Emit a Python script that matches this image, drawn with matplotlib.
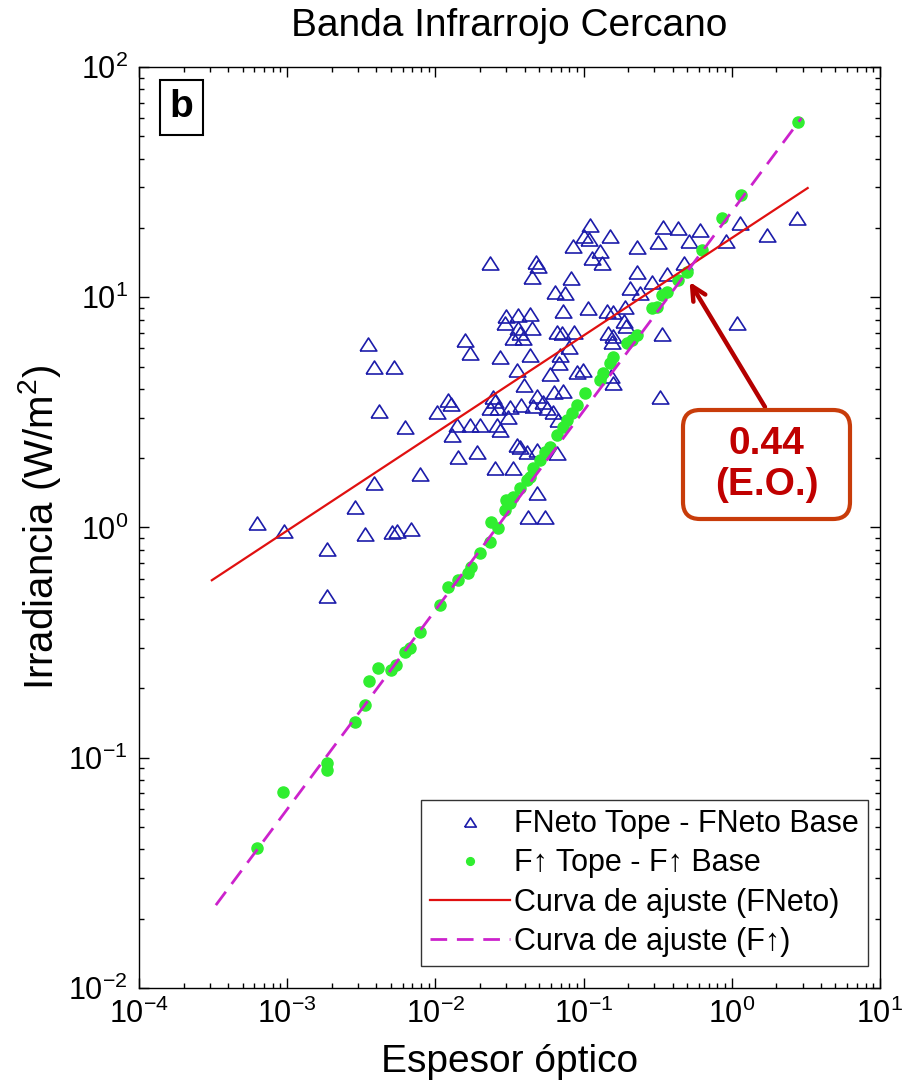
import matplotlib
matplotlib.use("Agg")
import matplotlib.pyplot as plt
from matplotlib.patches import FancyBboxPatch
from matplotlib.ticker import LogLocator, NullFormatter

plt.rcParams['font.family'] = ['Liberation Sans', 'DejaVu Sans']
plt.rcParams['mathtext.default'] = 'regular'

# ---- data: FNeto Tope - FNeto Base (triangles) ----
fneto_x = [6.25e-4, 9.50e-4, 1.853e-3, 1.853e-3, 2.86e-3, 3.50e-3, 3.84e-3, 5.24e-3,
           4.15e-3, 6.22e-3, 7.85e-3, 3.84e-3, 3.34e-3, 5.08e-3, 5.49e-3, 6.83e-3,
           0.01022, 0.01213, 0.0127, 0.01394, 0.0129, 0.01416, 0.01706, 0.0190,
           0.01993, 0.01579, 0.01706, 0.02327, 0.02719, 0.02594, 0.02515, 0.02438,
           0.02515, 0.02327, 0.02636, 0.03175, 0.03078, 0.02719, 0.02983, 0.03594,
           0.04331, 0.02938, 0.03594, 0.04467, 0.03708, 0.03325, 0.03886, 0.03539,
           0.03325, 0.03946, 0.04331, 0.04753, 0.04903, 0.04467, 0.04829, 0.03767,
           0.04538, 0.05300, 0.05638, 0.03539, 0.03708, 0.04133, 0.04829, 0.06587,
           0.04829, 0.04198, 0.05467, 0.05907, 0.06286, 0.07228, 0.06189, 0.06688,
           0.06385, 0.07458, 0.06587, 0.07117, 0.08577, 0.06900, 0.06794, 0.07228,
           0.07932, 0.08185, 0.08443, 0.08985, 0.1004, 0.1083, 0.1100, 0.1500,
           0.1284, 0.1134, 0.1324, 0.1066, 0.1432, 0.1571, 0.1454, 0.1571,
           0.1547, 0.1864, 0.1923, 0.1893, 0.0986, 0.1523, 0.1571, 0.2281,
           0.3415, 0.4310, 0.6066, 0.3160, 0.5115, 0.2281, 0.2878, 0.2046,
           0.2389, 0.3634, 0.4732, 0.3362, 0.3259, 0.9082, 1.077, 1.129,
           1.717, 2.735]
fneto_y = [1.046, 0.966, 0.807, 0.504, 1.227, 6.27, 4.98, 4.98,
           3.21, 2.73, 1.71, 1.56, 0.937, 0.956, 0.966, 0.985,
           3.18, 3.58, 3.44, 2.79, 2.52, 2.02, 2.79, 2.13,
           2.79, 6.52, 5.73, 14.09, 5.50, 2.79, 1.81, 3.69,
           3.54, 3.30, 3.30, 3.34, 3.02, 2.65, 8.29, 8.37,
           8.46, 7.73, 7.35, 7.35, 7.00, 6.65, 6.65, 4.83,
           1.81, 4.16, 5.62, 14.23, 13.67, 12.24, 3.72, 3.40,
           3.37, 3.51, 3.30, 2.28, 2.24, 2.13, 2.17, 2.11,
           1.41, 1.11, 1.11, 4.64, 3.88, 3.92, 3.18, 2.93,
           10.54, 10.43, 7.07, 7.00, 7.07, 5.62, 5.18, 8.71,
           6.08, 12.12, 16.70, 4.74, 18.45, 17.91, 20.6, 18.45,
           15.88, 14.81, 14.09, 8.98, 8.71, 8.63, 7.00, 6.79,
           6.39, 7.88, 7.50, 9.07, 4.83, 4.55, 4.24, 16.53,
           20.2, 20.0, 19.6, 17.38, 17.55, 12.88, 11.65, 10.97,
           10.43, 12.62, 14.09, 6.92, 3.69, 17.55, 7.73, 21.0,
           18.6, 22.1]

# ---- data: F(up) Tope - F(up) Base (green) ----
fup_x = [6.25e-4, 9.35e-4, 1.853e-3, 1.853e-3, 2.86e-3, 3.34e-3, 3.556e-3, 4.09e-3,
         5.00e-3, 5.41e-3, 6.22e-3, 6.72e-3, 7.85e-3, 0.01071, 0.01213, 0.01416,
         0.01654, 0.01733, 0.01993, 0.02327, 0.02363, 0.02636, 0.02983, 0.02938,
         0.03175, 0.03325, 0.03708, 0.04133, 0.04331, 0.04538, 0.0506, 0.05467,
         0.05907, 0.06587, 0.07228, 0.07691, 0.08314, 0.08985, 0.1017, 0.1284,
         0.1346, 0.1500, 0.1571, 0.1953, 0.2110, 0.2281, 0.2878, 0.3111,
         0.3362, 0.3634, 0.4310, 0.4956, 0.6256, 0.8535, 1.146, 2.778]
fup_y = [0.0406, 0.0710, 0.0949, 0.0885, 0.143, 0.1694, 0.2154, 0.2454,
         0.2405, 0.2529, 0.2879, 0.2997, 0.3516, 0.4608, 0.5515, 0.5916,
         0.6346, 0.6738, 0.775, 0.865, 1.057, 0.995, 1.316, 1.191,
         1.278, 1.357, 1.484, 1.608, 1.657, 1.813, 1.965, 2.128,
         2.237, 2.522, 2.732, 2.931, 3.143, 3.404, 3.84, 4.37,
         4.69, 5.18, 5.50, 6.33, 6.52, 6.86, 8.98, 9.07,
         10.23, 10.54, 11.88, 12.88, 16.04, 22.1, 27.8, 57.7]

# ---- fitted power-law curves (end points; straight lines on log-log) ----
fit_neto_x = [3.1e-4, 3.25]
fit_neto_y = [0.59, 29.8]
fit_up_x = [3.3e-4, 2.95]
fit_up_y = [0.0229, 60.0]

labels = ['FNeto Tope - FNeto Base', 'F↑ Tope - F↑ Base',
          'Curva de ajuste (FNeto)', 'Curva de ajuste (F↑)']

fig = plt.figure(figsize=(9.14, 10.82), dpi=100)
ax = fig.add_axes([0.1521, 0.0869, 0.8107, 0.8512])

tri = [(-1, -0.78), (1, -0.78), (0, 0.78), (-1, -0.78)]
h1, = ax.plot(fneto_x, fneto_y, linestyle='none', marker=tri, markersize=12,
              markerfacecolor='none', markeredgecolor='#1c1caa', markeredgewidth=1.2)
h2, = ax.plot(fup_x, fup_y, linestyle='none', marker='o', markersize=8,
              color='#30ee30', markeredgecolor='#30ee30')
h3, = ax.plot(fit_neto_x, fit_neto_y, color='#e01010', lw=1.6)
h4, = ax.plot(fit_up_x, fit_up_y, color='#cc22cc', lw=2.0, dashes=(6, 3.5))

ax.set_xscale('log')
ax.set_yscale('log')
ax.set_xlim(1e-4, 1e1)
ax.set_ylim(1e-2, 1e2)
ax.xaxis.set_minor_locator(LogLocator(base=10, subs=range(2, 10), numticks=20))
ax.yaxis.set_minor_locator(LogLocator(base=10, subs=range(2, 10), numticks=20))
ax.xaxis.set_minor_formatter(NullFormatter())
ax.yaxis.set_minor_formatter(NullFormatter())
ax.tick_params(which='both', direction='in', top=True, right=True, labelsize=22, width=1.0)
ax.tick_params(which='major', length=7, pad=8)
ax.tick_params(which='minor', length=3.5)
for s in ax.spines.values():
    s.set_linewidth(1.0)

ax.set_title('Banda Infrarrojo Cercano', fontsize=28, pad=22)
ax.set_xlabel('Espesor óptico', fontsize=28, labelpad=10)
ax.set_ylabel('Irradiancia (W/m$^2$)', fontsize=29, labelpad=4)

leg = ax.legend([h1, h2, h3, h4], labels, loc='lower right',
                bbox_to_anchor=(0.984, 0.024), fontsize=22, frameon=True,
                fancybox=False, edgecolor='black', handlelength=2.6,
                handletextpad=0.15, borderpad=0.3, labelspacing=0.3,
                borderaxespad=0.0, markerscale=0.7)
leg.get_frame().set_linewidth(1.0)

# panel label
ax.text(0.0575, 0.956, 'b', transform=ax.transAxes, fontsize=28, fontweight='bold',
        ha='center', va='center',
        bbox=dict(boxstyle='square,pad=0.25', facecolor='white', edgecolor='black', lw=1.5))

# annotation box (in inches from bottom-left of figure)
box = FancyBboxPatch((6.83, 5.63), 1.67, 1.09, boxstyle='round,pad=0,rounding_size=0.17',
                     transform=fig.dpi_scale_trans, facecolor='white',
                     edgecolor='#c83c0a', lw=3.0, zorder=5)
fig.add_artist(box)
fig.text(7.665, 6.175, '0.44\n(E.O.)', transform=fig.dpi_scale_trans, fontsize=28,
         fontweight='bold', color='#c00000', ha='center', va='center',
         linespacing=1.15, zorder=6)
ax.annotate('', xy=(0.519, 11.65), xycoords='data',
            xytext=(7.65, 6.75), textcoords=fig.dpi_scale_trans,
            arrowprops=dict(arrowstyle='->,head_length=1.0,head_width=0.5',
                            color='#b40000', lw=3.2, shrinkA=0, shrinkB=0))

fig.savefig('out.png', dpi=100)
